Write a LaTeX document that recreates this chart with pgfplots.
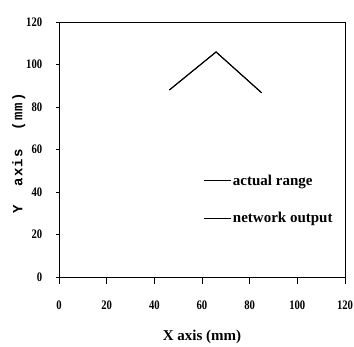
\documentclass[border=0pt]{standalone}
\usepackage{pgfplots}
\pgfplotsset{compat=1.18}
\usepackage{fontspec}
\setmainfont{Liberation Serif}
\newfontfamily\condb{Liberation Serif Bold}[FakeStretch=0.82]
\newfontfamily\serb{Liberation Serif Bold}
\newfontfamily\monob{Liberation Mono Bold}[LetterSpace=8]
\begin{document}
\begin{tikzpicture}[x=1pt,y=1pt]
\begin{axis}[
  scale only axis, width=286pt, height=255pt,
  at={(0,0)}, anchor=origin,
  xmin=0, xmax=120, ymin=0, ymax=120,
  xtick={0,20,...,120}, ytick={0,20,...,120},
  tick align=outside, tick pos=left,
  xtick style={black, line width=0.8pt, /pgfplots/major tick length=7pt},
  ytick style={black, line width=0.8pt, /pgfplots/major tick length=3pt},
  axis line style={line width=0.9pt},
  /pgf/number format/assume math mode=true,
  ticklabel style={font=\fontsize{13}{14}\selectfont\condb},
  xticklabel style={yshift=-16pt},
  yticklabel style={xshift=-9pt},
  xlabel={X axis (mm)},
  xlabel style={font=\fontsize{15}{17}\selectfont\serb, yshift=-14pt},
  ylabel={Y~~axis~~(mm)},
  ylabel style={font=\fontsize{14}{16}\selectfont\monob, yshift=-6pt, xshift=-4pt},
  legend style={draw=none, fill=none, at={(0.503,0.41)}, anchor=north west,
    font=\fontsize{15}{16}\selectfont\serb, row sep=22pt, inner sep=0pt,
    /tikz/every even column/.append style={column sep=2pt}},
  legend cell align=left,
  legend image code/.code={\draw[line width=0.9pt] (0pt,0pt) -- (27pt,0pt);},
]
\addplot[black, line width=1pt] coordinates {(46.3,88.0) (65.9,105.9) (85.0,86.7)};
\addlegendentry{actual range}
\addplot[black, line width=1pt] coordinates {(46.3,88.0) (65.9,105.9) (85.0,86.7)};
\addlegendentry{network output}
\end{axis}
\pgfresetboundingbox
\useasboundingbox (-59pt,-70pt) rectangle (295pt,277pt);
\end{tikzpicture}
\end{document}
